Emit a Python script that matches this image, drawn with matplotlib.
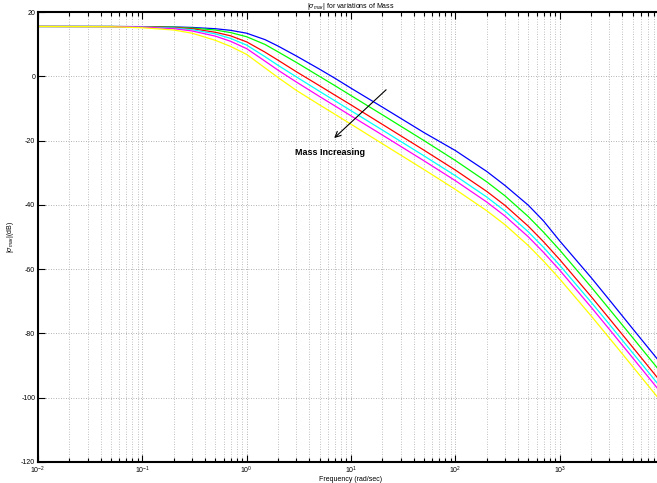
import numpy as np
import matplotlib
matplotlib.use("Agg")
import matplotlib.pyplot as plt
from matplotlib.ticker import LogLocator, NullFormatter, FixedLocator

plt.rcParams["font.family"] = ["Liberation Sans", "DejaVu Sans"]
plt.rcParams["mathtext.fontset"] = "custom"
plt.rcParams["mathtext.rm"] = "Liberation Sans"
plt.rcParams["mathtext.it"] = "Liberation Sans:italic"
plt.rcParams["axes.unicode_minus"] = False

# frequency points (rad/sec) and |sigma_max| in dB for each mass value
freq = [0.01, 0.05, 0.1, 0.2, 0.3, 0.5, 0.7, 1, 1.5, 2, 3, 5, 7, 10, 20, 50,
        100, 200, 300, 500, 700, 1000, 2000, 3000, 5000, 10000]

mag_blue = [15.5, 15.49, 15.45, 15.35, 15.2, 14.8, 14.3, 13.4, 11.4, 9.4,
            6.3, 2.2, -0.6, -3.7, -9.6, -17.5, -23.1, -29.6, -34.0,
            -40.1, -45.0, -51.2, -62.6, -69.6, -78.5, -90.5]
mag_green = [15.5, 15.49, 15.43, 15.3, 15.0, 14.4, 13.6, 12.3, 9.9, 7.6,
             4.3, -0.05, -2.9, -6.0, -11.99, -19.99, -26.19, -32.83, -37.23,
             -43.65, -48.49, -54.03, -65.52, -72.47, -81.28, -93.3]
mag_red = [15.5, 15.48, 15.4, 15.15, 14.8, 13.7, 12.6, 10.7, 7.5, 5.0,
           1.4, -2.95, -5.85, -8.9, -14.97, -22.98, -29.17, -35.81, -40.2,
           -46.63, -51.46, -57.01, -68.5, -75.44, -84.26, -96.28]
mag_cyan = [15.5, 15.47, 15.35, 15.0, 14.5, 13.2, 11.8, 9.7, 6.1, 3.4,
            -0.2, -4.7, -7.6, -10.7, -16.73, -24.74, -30.93, -37.57, -41.96,
            -48.39, -53.22, -58.77, -70.26, -77.2, -86.02, -98.04]
mag_magenta = [15.5, 15.46, 15.3, 14.8, 14.1, 12.5, 10.9, 8.6, 4.7, 1.9,
               -1.8, -6.3, -9.2, -12.3, -18.28, -26.28, -32.47, -39.12,
               -43.51, -49.93, -54.77, -60.31, -71.81, -78.75, -87.56, -99.58]
mag_yellow = [15.5, 15.42, 15.1, 14.4, 13.4, 11.2, 9.3, 6.8, 2.6, -0.4,
              -4.4, -8.9, -11.8, -14.9, -20.99, -29.0, -35.19, -41.83,
              -46.22, -52.65, -57.48, -63.03, -74.52, -81.46, -90.28, -102.3]

series = [mag_blue, mag_green, mag_red, mag_cyan, mag_magenta, mag_yellow]
colors = ["#0000ff", "#00ff00", "#ff0000", "#00ffff", "#ff00ff", "#ffff00"]
yticks = [-120, -100, -80, -60, -40, -20, 0, 20]
xticks = [1e-2, 1e-1, 1e0, 1e1, 1e2, 1e3]

fig = plt.figure(figsize=(6.57, 4.83), dpi=100)
ax = fig.add_axes([38 / 657, 21 / 483, 626 / 657, 450 / 483])

for mag, c in zip(series, colors):
    ax.semilogx(freq, mag, color=c, linewidth=0.9)

ax.set_xlim(1e-2, 1e4)
ax.set_ylim(-120, 20)
ax.set_yticks(yticks)
ax.xaxis.set_major_locator(FixedLocator(xticks))
ax.xaxis.set_minor_locator(LogLocator(base=10, subs=np.arange(2, 10), numticks=100))
ax.xaxis.set_minor_formatter(NullFormatter())
ax.set_xticklabels([r"$10^{%d}$" % int(np.log10(t)) for t in xticks])

ax.grid(True, which="major", color="#999999", linestyle=(0, (1, 2)), linewidth=0.6)
ax.grid(True, which="minor", axis="x", color="#aaaaaa", linestyle=(0, (1, 2)), linewidth=0.6)

ax.tick_params(which="both", direction="in", top=True, right=True,
               labelsize=5, width=0.8, pad=2)
ax.tick_params(which="major", length=5)
ax.tick_params(which="minor", length=3)
for s in ax.spines.values():
    s.set_linewidth(1.5)

ax.set_title(r"$|\sigma_{max}|$ for variations of Mass", fontsize=5, pad=2)
ax.set_xlabel("Frequency (rad/sec)", fontsize=5, labelpad=0)
ax.set_ylabel(r"$|\sigma_{max}|$(dB)", fontsize=5, labelpad=4)

ax.annotate("", xy=(6.6, -19.8), xytext=(22.7, -3.6),
            arrowprops=dict(arrowstyle="->", color="black", lw=0.8))
ax.text(2.9, -23.6, "Mass Increasing", fontsize=6.5, fontweight="bold",
        ha="left", va="center")

fig.savefig("out.png", dpi=100)
